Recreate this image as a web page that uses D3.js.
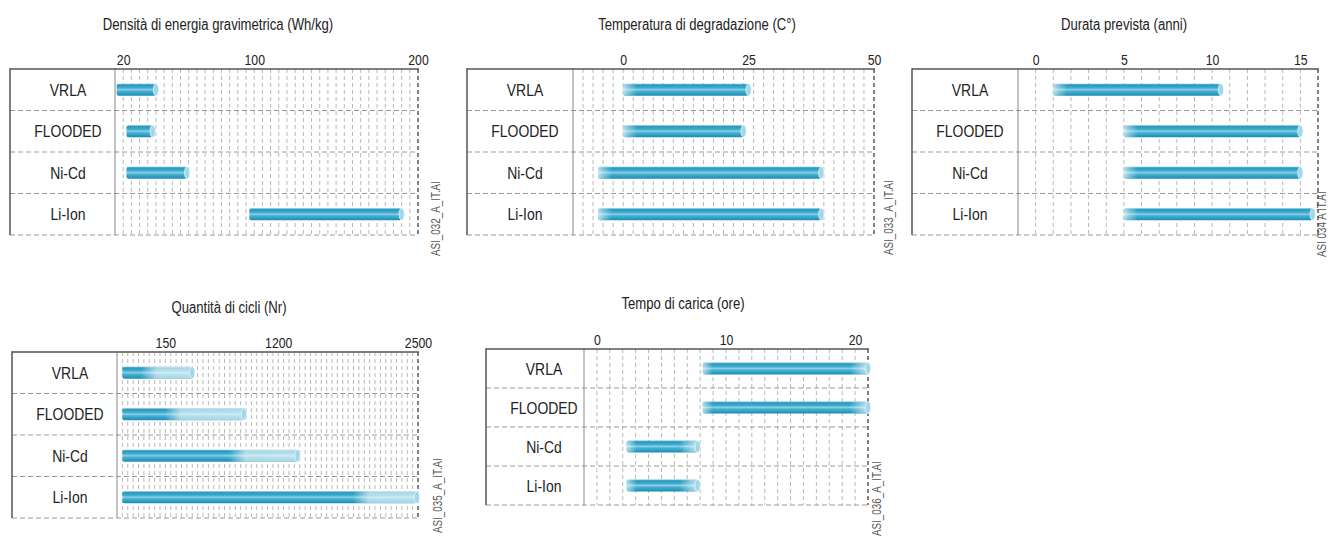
<!DOCTYPE html>
<html><head><meta charset="utf-8">
<script src="https://cdn.jsdelivr.net/npm/d3@7"></script>
<style>
html,body{margin:0;padding:0;background:#fff;}
svg{display:block;}
text{font-family:"Liberation Sans",Arial,sans-serif;}
</style></head>
<body>
<script>
// ---------- DATA ----------
const categories = ["VRLA", "FLOODED", "Ni-Cd", "Li-Ion"];

const energyDomain = [15, 200];
const energyTicks = [20, 100, 200];
const energyStart = [16, 22, 22, 97];
const energyEnd = [40, 38, 59, 190];

const tempDomain = [-10, 50];
const tempTicks = [0, 25, 50];
const tempStart = [0, 0, -5, -5];
const tempEnd = [25, 24, 39.5, 39.5];

const lifeDomain = [-1, 16];
const lifeTicks = [0, 5, 10, 15];
const lifeStart = [1, 5, 5, 5];
const lifeEnd = [10.5, 15, 15, 15.7];

const cyclesDomain = [-300, 2500];
const cyclesTicks = [150, 1200, 2500];
const cyclesStart = [-250, -250, -250, -250];
const cyclesMid = [-25, 200, 800, 1950];
const cyclesEnd = [400, 880, 1380, 2490];

const chargeDomain = [-1, 21];
const chargeTicks = [0, 10, 20];
const chargeStart = [8.2, 8.2, 2.3, 2.3];
const chargeEnd = [21, 21, 7.8, 7.8];

const titles = ["Densità di energia gravimetrica (Wh/kg)", "Temperatura di degradazione (C°)",
  "Durata prevista (anni)", "Quantità di cicli (Nr)", "Tempo di carica (ore)"];
const codes = ["ASI_032_A_IT.AI", "ASI_033_A_IT.AI", "ASI 034 A IT.AI", "ASI_035_A_IT.AI", "ASI_036_A_IT.AI"];

// ---------- LAYOUT ----------
const NARROW = 0.82;
const panels = [
  {title: titles[0], code: codes[0], domain: energyDomain, ticks: energyTicks, start: energyStart, end: energyEnd, mid: null,
   step: 5, L: 10, D: 115, R: 418, T: 69, B: 235, tx: 218, ty: 30, cx: 440, cy: 256, fade: "none"},
  {title: titles[1], code: codes[1], domain: tempDomain, ticks: tempTicks, start: tempStart, end: tempEnd, mid: null,
   step: 2, L: 467, D: 573, R: 874, T: 69, B: 235, tx: 697, ty: 30, cx: 893, cy: 255, fade: "left"},
  {title: titles[2], code: codes[2], domain: lifeDomain, ticks: lifeTicks, start: lifeStart, end: lifeEnd, mid: null,
   step: 1, L: 912, D: 1018, R: 1318, T: 69, B: 235, tx: 1124, ty: 30, cx: 1326, cy: 257, fade: "left"},
  {title: titles[3], code: codes[3], domain: cyclesDomain, ticks: cyclesTicks, start: cyclesStart, end: cyclesEnd, mid: cyclesMid,
   step: 50, L: 12, D: 117, R: 418, T: 352, B: 518, tx: 229, ty: 313, cx: 442, cy: 533, fade: "mid"},
  {title: titles[4], code: codes[4], domain: chargeDomain, ticks: chargeTicks, start: chargeStart, end: chargeEnd, mid: null,
   step: 1, L: 486, D: 584, R: 868, T: 349, B: 505, tx: 683, ty: 309, cx: 881, cy: 536, fade: "both"}
];

const svg = d3.select("body").append("svg").attr("width", 1330).attr("height", 537);
const defs = svg.append("defs");

// cylinder vertical gradient
const cyl = defs.append("linearGradient").attr("id", "cyl").attr("x1", 0).attr("y1", 0).attr("x2", 0).attr("y2", 1);
[[0, "#6cc0da"], [0.12, "#2598bf"], [0.35, "#44aecf"], [0.5, "#8dd0e4"], [0.62, "#4ab2d2"], [0.85, "#2a9cc2"], [1, "#1a8cb3"]]
  .forEach(([o, c]) => cyl.append("stop").attr("offset", o).attr("stop-color", c));

let gid = 0;
function fadeGrad(stops, x1, x2) {
  const id = "f" + (gid++);
  const g = defs.append("linearGradient").attr("id", id).attr("gradientUnits", "userSpaceOnUse")
    .attr("x1", x1).attr("x2", x2).attr("y1", 0).attr("y2", 0);
  stops.forEach(([o, a]) => g.append("stop").attr("offset", o).attr("stop-color", "#fff").attr("stop-opacity", a));
  return "url(#" + id + ")";
}

panels.forEach(p => {
  const g = svg.append("g");
  const x = d3.scaleLinear().domain(p.domain).range([p.D, p.R]);
  const y = d3.scaleBand().domain(categories).range([p.T, p.B]);

  // title
  g.append("text").attr("transform", `translate(${p.tx},${p.ty}) scale(${NARROW},1)`).attr("text-anchor", "middle")
    .attr("font-size", 16).attr("fill", "#222").text(p.title);

  // vertical grid
  const gridVals = d3.range(p.domain[0] + p.step, p.domain[1] - p.step / 2, p.step);
  g.append("g").selectAll("line").data(gridVals).join("line")
    .attr("x1", d => x(d)).attr("x2", d => x(d)).attr("y1", p.T).attr("y2", p.B)
    .attr("stroke", "#b8b8b8").attr("stroke-width", 1).attr("stroke-dasharray", "4,3");

  // row separators + bottom
  const seps = categories.slice(1).map(c => y(c)).concat([p.B]);
  g.append("g").selectAll("line").data(seps).join("line")
    .attr("x1", p.L).attr("x2", p.R).attr("y1", d => d).attr("y2", d => d)
    .attr("stroke", "#999").attr("stroke-width", 1).attr("stroke-dasharray", "5,3");

  // divider
  g.append("line").attr("x1", p.D).attr("x2", p.D).attr("y1", p.T).attr("y2", p.B)
    .attr("stroke", "#888").attr("stroke-width", 1);
  // right dashed border
  g.append("line").attr("x1", p.R).attr("x2", p.R).attr("y1", p.T).attr("y2", p.B)
    .attr("stroke", "#808080").attr("stroke-width", 2).attr("stroke-dasharray", "4,3");
  // left border
  g.append("line").attr("x1", p.L).attr("x2", p.L).attr("y1", p.T - 0.75).attr("y2", p.B)
    .attr("stroke", "#555").attr("stroke-width", 1.5);
  // top border
  g.append("line").attr("x1", p.L).attr("x2", p.R + 1).attr("y1", p.T).attr("y2", p.T)
    .attr("stroke", "#555").attr("stroke-width", 1.5);

  // axis tick labels
  const ax = g.append("g").attr("transform", `translate(0,${p.T - 4})`)
    .call(d3.axisTop(x).tickValues(p.ticks).tickSize(0).tickPadding(0).tickFormat(d3.format("d")));
  ax.select(".domain").remove();
  ax.selectAll("text").attr("font-size", 15).attr("fill", "#222")
    .attr("transform", `scale(${NARROW},1)`)
    .style("font-family", '"Liberation Sans",Arial,sans-serif');

  // category labels
  g.append("g").selectAll("text").data(categories).join("text")
    .attr("transform", d => `translate(${p.L + 58},${y(d) + y.bandwidth() / 2 + 6}) scale(${NARROW},1)`)
    .attr("text-anchor", "middle").attr("font-size", 17).attr("fill", "#222").text(d => d);

  // bars
  const bh = 12;
  categories.forEach((c, i) => {
    const x0 = x(p.start[i]), x1 = x(p.end[i]);
    const cy = y(c) + y.bandwidth() / 2;
    const bg = g.append("g");
    bg.append("rect").attr("x", x0).attr("y", cy - bh / 2).attr("width", x1 - x0).attr("height", bh)
      .attr("rx", 2).attr("fill", "url(#cyl)");
    let fill = null;
    if (p.fade === "left") {
      fill = fadeGrad([[0, 0.65], [0.4, 0.35], [1, 0]], x0, x0 + 14);
    } else if (p.fade === "both") {
      const w = x1 - x0;
      fill = fadeGrad([[0, 0.6], [10 / w, 0.0], [(w - 18) / w, 0.0], [(w - 4) / w, 0.55], [1, 0.6]], x0, x1);
    } else if (p.fade === "mid") {
      const xm = x(p.mid[i]);
      const w = x1 - x0;
      const a = Math.max(0, (xm - x0 - 6) / w), b = Math.min(1, (xm - x0 + 10) / w);
      fill = fadeGrad([[0, 0], [a, 0], [b, 0.6], [1, 0.62]], x0, x1);
    }
    if (fill) {
      bg.append("rect").attr("x", x0).attr("y", cy - bh / 2).attr("width", x1 - x0).attr("height", bh)
        .attr("rx", 2).attr("fill", fill);
    }
    bg.append("ellipse").attr("cx", x1).attr("cy", cy).attr("rx", 2.6).attr("ry", bh / 2)
      .attr("fill", "#9ed8ea").attr("stroke", "#e4f5fa").attr("stroke-width", 0.8);
  });

  // file code watermark
  g.append("text").attr("transform", `translate(${p.cx},${p.cy}) rotate(-90) scale(${NARROW},1)`)
    .attr("font-size", 12).attr("fill", "#555").text(p.code);
});
</script>
</body></html>
